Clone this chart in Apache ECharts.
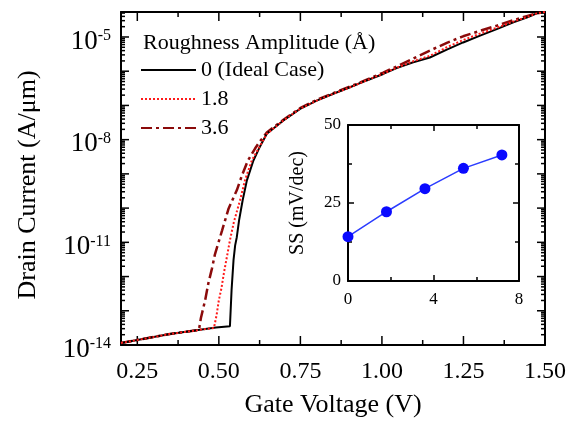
<!DOCTYPE html>
<html>
<head>
<meta charset="utf-8">
<script src="https://cdn.jsdelivr.net/npm/echarts@6/dist/echarts.min.js"></script>
<style>
  html, body { margin: 0; padding: 0; background: #fff; }
  #wrap { position: relative; width: 577px; height: 422px; }
  #chart { position: absolute; left: 0; top: 0; width: 577px; height: 422px; }
  #inset { position: absolute; left: 280px; top: 100px; width: 260px; height: 215px; }
</style>
</head>
<body>
<div id="wrap">
  <div id="chart"></div>
  <div id="inset"></div>
</div>
<script>
// Transfer characteristics: gate voltage (V) vs log10 of drain current (A/um)
const gateIdeal = [0.200, 0.350, 0.491, 0.534, 0.539, 0.545, 0.550, 0.555, 0.562, 0.573, 0.586, 0.606, 0.623, 0.647, 0.698, 0.749, 0.800, 0.851, 0.902, 0.953, 1.004, 1.045, 1.096, 1.147, 1.199, 1.249, 1.301, 1.352, 1.403, 1.444, 1.475, 1.500];
const logIdIdeal = [-13.94, -13.68, -13.49, -13.45, -12.40, -11.52, -11.09, -10.85, -10.36, -9.77, -9.19, -8.61, -8.26, -7.83, -7.44, -7.10, -6.86, -6.66, -6.47, -6.27, -6.08, -5.91, -5.74, -5.60, -5.37, -5.16, -4.96, -4.77, -4.57, -4.43, -4.31, -4.27];

const gateR18 = [0.200, 0.350, 0.485, 0.493, 0.500, 0.508, 0.516, 0.525, 0.534, 0.546, 0.565, 0.580, 0.601, 0.620, 0.647, 0.698, 0.749, 0.800, 0.851, 0.902, 0.953, 1.004, 1.045, 1.096, 1.147, 1.199, 1.249, 1.301, 1.352, 1.403, 1.444, 1.475, 1.500];
const logIdR18 = [-13.94, -13.68, -13.50, -13.13, -12.69, -12.34, -11.87, -11.41, -10.94, -10.41, -9.77, -9.19, -8.61, -8.29, -7.83, -7.44, -7.10, -6.86, -6.66, -6.47, -6.27, -6.07, -5.90, -5.71, -5.55, -5.30, -5.09, -4.90, -4.73, -4.55, -4.42, -4.31, -4.27];

const gateR36 = [0.200, 0.350, 0.439, 0.445, 0.458, 0.468, 0.479, 0.488, 0.499, 0.510, 0.530, 0.555, 0.571, 0.589, 0.611, 0.626, 0.647, 0.698, 0.749, 0.800, 0.851, 0.902, 0.953, 1.004, 1.045, 1.096, 1.147, 1.199, 1.249, 1.301, 1.352, 1.403, 1.444, 1.475, 1.500];
const logIdR36 = [-13.94, -13.68, -13.56, -13.21, -12.69, -12.19, -11.76, -11.35, -11.00, -10.65, -10.01, -9.48, -9.04, -8.61, -8.26, -8.05, -7.79, -7.42, -7.08, -6.84, -6.64, -6.45, -6.25, -6.04, -5.86, -5.63, -5.40, -5.17, -4.98, -4.82, -4.67, -4.51, -4.39, -4.31, -4.27];

const seriesNames = ['0 (Ideal Case)', '1.8', '3.6'];

// Inset: subthreshold swing vs roughness amplitude
const roughness = [0, 1.8, 3.6, 5.4, 7.2];
const ssValues = [14.2, 22.2, 29.6, 36.1, 40.4];

// Tick positions of the main frame
const xMajorTicks = [0.25, 0.50, 0.75, 1.00, 1.25, 1.50];
const xMinorTicks = [0.375, 0.625, 0.875, 1.125, 1.375];
const yLabelExps = [-14, -11, -8, -5];
const yDecades = [-14, -13, -12, -11, -10, -9, -8, -7, -6, -5];

const X_MIN = 0.2, X_MAX = 1.5;
const Y_MIN = -14, Y_MAX = -4.27;

// logarithmic sub-decade ticks (2..9 x 10^n)
const yMinorTicks = [];
yDecades.forEach(function (d) {
  for (let k = 2; k <= 9; k++) {
    const v = d + Math.log10(k);
    if (v < Y_MAX) yMinorTicks.push(v);
  }
});

const FONT = 'Liberation Serif';
const TICK_STYLE = { stroke: '#000', lineWidth: 1.5 };

function pairs(xs, ys) {
  return xs.map(function (x, i) { return [x, ys[i]]; });
}

// Inward ticks on both opposite edges of the main frame, positioned by the axes' scales
const xTickData = xMajorTicks.map(function (v) { return [v, Y_MIN, 1]; })
  .concat(xMinorTicks.map(function (v) { return [v, Y_MIN, 0]; }));
const yTickData = yDecades.map(function (v) { return [X_MIN, v, 1]; })
  .concat(yMinorTicks.map(function (v) { return [X_MIN, v, 0]; }));

function tickSeries(data, alongX) {
  return {
    type: 'custom', xAxisIndex: 0, yAxisIndex: 0,
    data: data, clip: false, silent: true,
    encode: { x: 0, y: 1 },
    renderItem: function (params, api) {
      const major = api.value(2) === 1;
      if (alongX) {
        const len = major ? 9 : 5;
        const a = api.coord([api.value(0), Y_MIN]);
        const b = api.coord([api.value(0), Y_MAX]);
        return { type: 'group', children: [
          { type: 'line', shape: { x1: a[0], y1: a[1], x2: a[0], y2: a[1] - len }, style: TICK_STYLE },
          { type: 'line', shape: { x1: b[0], y1: b[1], x2: b[0], y2: b[1] + len }, style: TICK_STYLE }
        ] };
      }
      const len = major ? 8 : 4;
      const a = api.coord([X_MIN, api.value(1)]);
      const b = api.coord([X_MAX, api.value(1)]);
      return { type: 'group', children: [
        { type: 'line', shape: { x1: a[0], y1: a[1], x2: a[0] + len, y2: a[1] }, style: TICK_STYLE },
        { type: 'line', shape: { x1: b[0], y1: b[1], x2: b[0] - len, y2: b[1] }, style: TICK_STYLE }
      ] };
    }
  };
}

const frameLine = { onZero: false, lineStyle: { color: '#000', width: 2 } };

// ---- main transfer-curve plot ----
const chart = echarts.init(document.getElementById('chart'), null, { renderer: 'canvas' });
chart.setOption({
  animation: false,
  backgroundColor: '#fff',
  title: {
    text: 'Roughness Amplitude (\u00c5)',
    left: 143, top: 32, padding: 0,
    textStyle: { fontFamily: FONT, fontSize: 22, fontWeight: 'normal', color: '#000' }
  },
  legend: {
    data: seriesNames,
    orient: 'vertical', left: 140, top: 59, padding: 0,
    itemWidth: 55, itemHeight: 14, itemGap: 7,
    itemStyle: { opacity: 0 },
    textStyle: { fontFamily: FONT, fontSize: 22, color: '#000', lineHeight: 22 }
  },
  graphic: [
    {
      type: 'text', x: 333, y: 405, silent: true,
      style: { text: 'Gate Voltage (V)', font: '26px "Liberation Serif"', fill: '#000',
        align: 'center', verticalAlign: 'middle', textAlign: 'center', textVerticalAlign: 'middle' }
    },
    {
      type: 'text', x: 28, y: 185, rotation: Math.PI / 2, silent: true,
      style: { text: 'Drain Current (A/\u03bcm)', font: '26px "Liberation Serif"', fill: '#000',
        align: 'center', verticalAlign: 'middle', textAlign: 'center', textVerticalAlign: 'middle' }
    }
  ],
  grid: [{ left: 121, right: 32, top: 12, bottom: 77 }],
  xAxis: [
    {
      type: 'value', gridIndex: 0, position: 'bottom', min: X_MIN, max: X_MAX,
      axisLine: frameLine, axisTick: { show: false },
      axisLabel: {
        customValues: xMajorTicks, margin: 15,
        fontFamily: FONT, fontSize: 24, color: '#000',
        formatter: function (v) { return Number(v).toFixed(2); }
      },
      splitLine: { show: false }
    },
    {
      type: 'value', gridIndex: 0, position: 'top', min: X_MIN, max: X_MAX,
      axisLine: frameLine, axisTick: { show: false }, axisLabel: { show: false }, splitLine: { show: false }
    }
  ],
  yAxis: [
    {
      type: 'value', gridIndex: 0, position: 'left', min: Y_MIN, max: Y_MAX,
      axisLine: frameLine, axisTick: { show: false },
      axisLabel: {
        customValues: yLabelExps, margin: 10, padding: [9, 0, 0, 0],
        formatter: function (v) { return '{b|10}{s|' + Math.round(v) + '}'; },
        rich: {
          b: { fontFamily: FONT, fontSize: 27, color: '#000' },
          s: { fontFamily: FONT, fontSize: 16, color: '#000', verticalAlign: 'top' }
        }
      },
      splitLine: { show: false }
    },
    {
      type: 'value', gridIndex: 0, position: 'right', min: Y_MIN, max: Y_MAX,
      axisLine: frameLine, axisTick: { show: false }, axisLabel: { show: false }, splitLine: { show: false }
    }
  ],
  // drawn bottom to top: 3.6, ideal, 1.8
  series: [
    {
      name: seriesNames[2], type: 'line', xAxisIndex: 0, yAxisIndex: 0,
      data: pairs(gateR36, logIdR36), symbol: 'none',
      lineStyle: { color: '#8b0a0a', width: 2.5, type: [11, 4, 3, 4] }, itemStyle: { color: '#8b0a0a' }
    },
    {
      name: seriesNames[0], type: 'line', xAxisIndex: 0, yAxisIndex: 0,
      data: pairs(gateIdeal, logIdIdeal), symbol: 'none',
      lineStyle: { color: '#000000', width: 2 }, itemStyle: { color: '#000000' }
    },
    {
      name: seriesNames[1], type: 'line', xAxisIndex: 0, yAxisIndex: 0,
      data: pairs(gateR18, logIdR18), symbol: 'none',
      lineStyle: { color: '#ff1a1a', width: 2, type: [2, 2] }, itemStyle: { color: '#ff1a1a' }
    },
    tickSeries(xTickData, true),
    tickSeries(yTickData, false)
  ]
});

// ---- inset: SS vs roughness amplitude ----
function insetTick() {
  return { inside: true, length: 6, lineStyle: { color: '#000', width: 1.5 } };
}
function insetMinor() {
  return { show: true, splitNumber: 2, length: 4, lineStyle: { color: '#000', width: 1.5 } };
}
const inset = echarts.init(document.getElementById('inset'), null, { renderer: 'canvas' });
inset.setOption({
  animation: false,
  grid: { left: 66, top: 25, width: 173, height: 156 },
  xAxis: [
    {
      type: 'value', position: 'bottom', min: 0, max: 8, interval: 4,
      axisLine: frameLine, axisTick: insetTick(), minorTick: insetMinor(),
      axisLabel: { margin: 10, fontFamily: FONT, fontSize: 17, color: '#000' },
      splitLine: { show: false }
    },
    {
      type: 'value', position: 'top', min: 0, max: 8, interval: 4,
      axisLine: frameLine, axisTick: insetTick(), minorTick: insetMinor(),
      axisLabel: { show: false }, splitLine: { show: false }
    }
  ],
  yAxis: [
    {
      type: 'value', position: 'left', min: 0, max: 50, interval: 25,
      name: 'SS (mV/dec)', nameLocation: 'middle', nameGap: 40,
      nameTextStyle: { fontFamily: FONT, fontSize: 20, color: '#000' },
      axisLine: frameLine, axisTick: insetTick(), minorTick: insetMinor(),
      axisLabel: { margin: 7, fontFamily: FONT, fontSize: 17, color: '#000' },
      splitLine: { show: false }
    },
    {
      type: 'value', position: 'right', min: 0, max: 50, interval: 25,
      axisLine: frameLine, axisTick: insetTick(), minorTick: insetMinor(),
      axisLabel: { show: false }, splitLine: { show: false }
    }
  ],
  series: [
    {
      name: 'SS', type: 'line', xAxisIndex: 0, yAxisIndex: 0,
      data: pairs(roughness, ssValues),
      symbol: 'circle', symbolSize: 11,
      lineStyle: { color: '#2b3cff', width: 1.5 },
      itemStyle: { color: '#0a0aff' }
    }
  ]
});
</script>
</body>
</html>
